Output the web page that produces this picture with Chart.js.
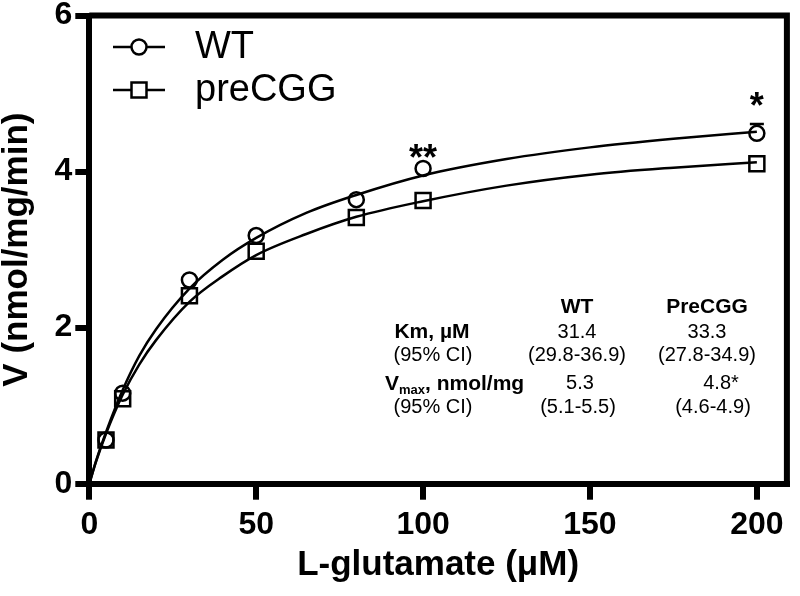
<!DOCTYPE html>
<html><head><meta charset="utf-8">
<script src="https://cdn.jsdelivr.net/npm/chart.js@4/dist/chart.umd.min.js"></script>
<style>html,body{margin:0;padding:0;background:#fff}#wrap{width:800px;height:596px}</style>
</head><body><div id="wrap"><canvas id="c" width="800" height="596"></canvas></div>
<script>
// ---- data ----
const seriesNames = ['WT', 'preCGG'];
const glutamate = [5, 10, 30, 50, 80, 100, 200];
const wtV = [0.56, 1.16, 2.61, 3.18, 3.64, 4.04, 4.49];
const precggV = [0.56, 1.09, 2.41, 2.98, 3.41, 3.63, 4.10];
const wtErr = [0, 0, 0, 0, 0, 0, 0.12];
const wtSig = ['', '', '', '', '', '**', '*'];
const fitX = [0, 2, 5, 10, 15, 20, 30, 40, 50, 65, 80, 100, 125, 150, 175, 200];
const wtFit = [0, 0.29, 0.66, 1.20, 1.64, 1.98, 2.50, 2.87, 3.15, 3.47, 3.70, 3.95, 4.16, 4.31, 4.42, 4.51];
const precggFit = [0, 0.28, 0.64, 1.14, 1.53, 1.84, 2.33, 2.66, 2.93, 3.20, 3.42, 3.62, 3.82, 3.96, 4.05, 4.12];
const xTicks = [0, 50, 100, 150, 200];
const yTicks = [0, 2, 4, 6];
const xTitle = 'L-glutamate (\u03BCM)';
const yTitle = 'V (nmol/mg/min)';
const tableHead = ['', 'WT', 'PreCGG'];
const kmRow = ['Km, \u00B5M', '31.4', '33.3'];
const kmCI = ['(95% CI)', '(29.8-36.9)', '(27.8-34.9)'];
const vmaxRow = ['V', 'max', ', nmol/mg', '5.3', '4.8*'];
const vmaxCI = ['(95% CI)', '(5.1-5.5)', '(4.6-4.9)'];

const FONT = 'Liberation Sans, Arial, Helvetica, sans-serif';
Chart.defaults.font.family = FONT;
Chart.defaults.color = '#000';

const pts = (xs, ys) => xs.map((x, i) => ({x: x, y: ys[i]}));

const framePlugin = {
  id: 'frame',
  afterDraw(chart) {
    const {ctx, chartArea: a} = chart;
    ctx.save();
    ctx.strokeStyle = '#000';
    ctx.lineWidth = 6;
    ctx.beginPath();
    ctx.moveTo(a.left, a.top);
    ctx.lineTo(a.right, a.top);
    ctx.moveTo(a.right, a.top - 3);
    ctx.lineTo(a.right, a.bottom + 3);
    ctx.stroke();
    ctx.restore();
  }
};

const extrasPlugin = {
  id: 'extras',
  afterDatasetsDraw(chart) {
    const {ctx} = chart;
    const xs = chart.scales.x, ys = chart.scales.y;
    ctx.save();
    ctx.strokeStyle = '#000';
    ctx.fillStyle = '#000';
    // error bars (WT)
    ctx.lineWidth = 2.5;
    glutamate.forEach((g, i) => {
      if (!wtErr[i]) return;
      const px = xs.getPixelForValue(g);
      const y0 = ys.getPixelForValue(wtV[i]) - 7.5;
      const y1 = ys.getPixelForValue(wtV[i] + wtErr[i]);
      ctx.beginPath();
      ctx.moveTo(px, y0); ctx.lineTo(px, y1);
      ctx.moveTo(px - 7, y1); ctx.lineTo(px + 7, y1);
      ctx.stroke();
    });
    // significance marks
    ctx.font = 'bold 36px ' + FONT;
    ctx.textAlign = 'center';
    ctx.textBaseline = 'alphabetic';
    glutamate.forEach((g, i) => {
      if (!wtSig[i]) return;
      const px = xs.getPixelForValue(g);
      const py = ys.getPixelForValue(wtV[i] + wtErr[i]) + (wtErr[i] ? -8 : 0);
      ctx.fillText(wtSig[i], px, py + 2);
    });
    // legend
    const legY = [47, 90];
    const styles = [{pointStyle: 'circle', radius: 7.5, borderWidth: 2.5}, {pointStyle: 'rect', radius: 10.6, borderWidth: 2.5}];
    seriesNames.forEach((name, i) => {
      ctx.lineWidth = 2.5;
      ctx.beginPath();
      ctx.moveTo(113, legY[i]); ctx.lineTo(165, legY[i]);
      ctx.stroke();
      ctx.fillStyle = 'rgba(255,255,255,1)';
      Chart.helpers.drawPoint(ctx, styles[i], 139, legY[i]);
      ctx.fillStyle = '#000';
      ctx.font = '38px ' + FONT;
      ctx.textAlign = 'left';
      ctx.textBaseline = 'middle';
      ctx.fillText(name, 195, legY[i] + 1);
    });
    // parameter table
    const cx = [433, 577, 707];
    ctx.textAlign = 'center';
    ctx.textBaseline = 'middle';
    ctx.font = 'bold 21px ' + FONT;
    ctx.fillText(tableHead[1], cx[1], 307);
    ctx.fillText(tableHead[2], cx[2], 307);
    ctx.fillText(kmRow[0], 432, 332);
    ctx.font = '20px ' + FONT;
    ctx.fillText(kmRow[1], 577, 332);
    ctx.fillText(kmRow[2], 707, 332);
    ctx.fillText(kmCI[0], 433, 355);
    ctx.fillText(kmCI[1], 577, 355);
    ctx.fillText(kmCI[2], 707, 355);
    // Vmax label with subscript
    ctx.textAlign = 'left';
    ctx.textBaseline = 'alphabetic';
    let x = 385; const base = 390;
    ctx.font = 'bold 21px ' + FONT;
    ctx.fillText(vmaxRow[0], x, base); x += ctx.measureText(vmaxRow[0]).width;
    ctx.font = 'bold 13px ' + FONT;
    ctx.fillText(vmaxRow[1], x, base + 4); x += ctx.measureText(vmaxRow[1]).width;
    ctx.font = 'bold 21px ' + FONT;
    ctx.fillText(vmaxRow[2], x, base);
    ctx.textAlign = 'center';
    ctx.textBaseline = 'middle';
    ctx.font = '20px ' + FONT;
    ctx.fillText(vmaxRow[3], 580, 383);
    ctx.fillText(vmaxRow[4], 721, 383);
    ctx.fillText(vmaxCI[0], 433, 407);
    ctx.fillText(vmaxCI[1], 578, 407);
    ctx.fillText(vmaxCI[2], 713, 407);
    ctx.restore();
  }
};

new Chart(document.getElementById('c'), {
  type: 'line',
  data: {
    datasets: [
      {label: seriesNames[0], data: pts(glutamate, wtV), showLine: false, pointStyle: 'circle', pointRadius: 7.5, pointBorderWidth: 2.5, borderColor: '#000', pointBackgroundColor: 'rgba(0,0,0,0)', clip: false},
      {label: seriesNames[1], data: pts(glutamate, precggV), showLine: false, pointStyle: 'rect', pointRadius: 10.6, pointBorderWidth: 2.5, borderColor: '#000', pointBackgroundColor: 'rgba(0,0,0,0)', clip: false},
      {label: seriesNames[0] + ' fit', data: pts(fitX, wtFit), pointRadius: 0, borderWidth: 2.5, borderColor: '#000', cubicInterpolationMode: 'monotone', fill: false},
      {label: seriesNames[1] + ' fit', data: pts(fitX, precggFit), pointRadius: 0, borderWidth: 2.5, borderColor: '#000', cubicInterpolationMode: 'monotone', fill: false}
    ]
  },
  options: {
    responsive: false,
    animation: false,
    devicePixelRatio: 1,
    layout: {padding: {top: 15.5, right: 0, left: 0, bottom: 0}},
    plugins: {legend: {display: false}, tooltip: {enabled: false}},
    scales: {
      x: {
        type: 'linear', min: 0, max: 209,
        afterBuildTicks: s => { s.ticks = xTicks.map(v => ({value: v})); },
        afterFit: s => { s.height = 112.3; s.paddingLeft = 0; s.paddingRight = 0; },
        grid: {drawOnChartArea: false, drawTicks: true, tickLength: 16, lineWidth: 6, color: '#000', tickColor: '#000'},
        border: {display: true, width: 6, color: '#000'},
        ticks: {font: {size: 32, weight: 'bold'}, padding: 6, color: '#000', maxRotation: 0},
        title: {display: true, text: xTitle, font: {size: 35, weight: 'bold'}, padding: {top: 0, bottom: 10}, color: '#000'}
      },
      y: {
        type: 'linear', min: 0, max: 6,
        afterBuildTicks: s => { s.ticks = yTicks.map(v => ({value: v})); },
        afterFit: s => { s.width = 89.3; s.paddingTop = 0; s.paddingBottom = 0; },
        grid: {drawOnChartArea: false, drawTicks: true, tickLength: 14, lineWidth: 6, color: '#000', tickColor: '#000'},
        border: {display: true, width: 6, color: '#000'},
        ticks: {font: {size: 32, weight: 'bold'}, padding: 3, color: '#000'},
        title: {display: true, text: yTitle, font: {size: 35, weight: 'bold'}, padding: {top: -4, bottom: 0}, color: '#000'}
      }
    }
  },
  plugins: [framePlugin, extrasPlugin]
});
</script></body></html>
